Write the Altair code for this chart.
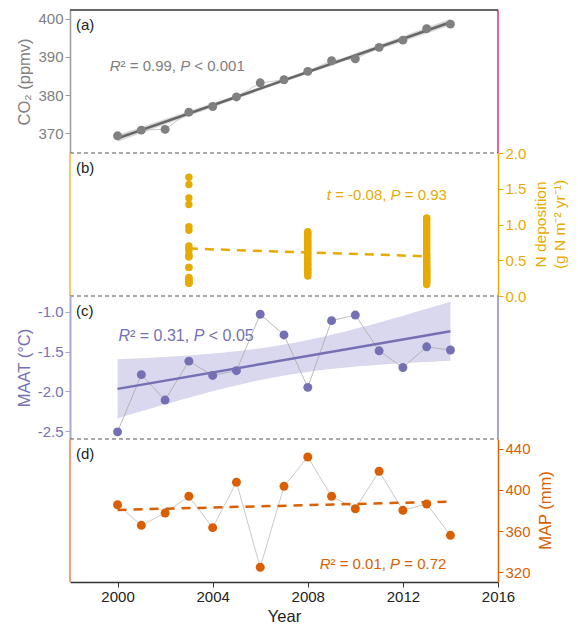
import altair as alt
import numpy as np
import pandas as pd

# ---------------- data ----------------
years = list(range(2000, 2015))
co2 = [369.3, 370.8, 371.0, 375.5, 377.0, 379.5, 383.2, 384.0, 386.2, 389.0, 389.5, 392.5, 394.4, 397.4, 398.6]
maat = [-2.51, -1.79, -2.11, -1.62, -1.80, -1.74, -1.03, -1.29, -1.95, -1.11, -1.04, -1.49, -1.70, -1.44, -1.48]
map_mm = [385.6, 365.6, 377.6, 393.8, 363.3, 407.4, 324.9, 403.5, 431.9, 393.8, 381.7, 418.1, 380.2, 386.3, 355.9]

ndep_2003 = [1.66, 1.56, 1.37, 1.28, 0.97, 0.92, 0.70, 0.67, 0.64, 0.58, 0.55, 0.55, 0.40, 0.40,
             0.26, 0.25, 0.22, 0.20, 0.18, 0.18]
ndep_2008 = [0.90, 0.88, 0.86, 0.83, 0.81, 0.78, 0.76, 0.73, 0.71, 0.69, 0.67, 0.65, 0.62, 0.60,
             0.58, 0.56, 0.53, 0.51, 0.49, 0.46, 0.44, 0.42, 0.39, 0.37, 0.35, 0.33, 0.31, 0.28]
ndep_2013 = [1.09, 1.07, 1.04, 1.01, 0.98, 0.95, 0.92, 0.89, 0.86, 0.83, 0.80, 0.77, 0.74, 0.71,
             0.68, 0.65, 0.62, 0.59, 0.57, 0.55, 0.53, 0.51, 0.49, 0.47, 0.45, 0.43, 0.41, 0.39,
             0.37, 0.36, 0.35, 0.33, 0.32, 0.31, 0.29, 0.28, 0.27, 0.25, 0.24, 0.22, 0.20, 0.19,
             0.16]

x_ticks = [2000, 2004, 2008, 2012, 2016]
co2_ticks = [370, 380, 390, 400]
ndep_ticks = [0.0, 0.5, 1.0, 1.5, 2.0]
maat_ticks = [-2.5, -2.0, -1.5, -1.0]
map_ticks = [320, 360, 400, 440]

# ---------------- style ----------------
FONT = "Liberation Sans"
W, H = 428, 143
C_CO2, C_CO2_LINE = "#808080", "#666666"
C_N = "#E6AB02"
C_T = "#7570B3"
C_P = "#D95F02"
LINK = "#BBBBBB"

ARIAL = {' ': 278, '=': 584, ',': 278, '.': 278, '<': 584, '-': 333, 'R': 722, 'P': 667,
         't': 278, '\u00b2': 333}
for d in "0123456789":
    ARIAL[d] = 556


def text_width(s, size):
    return sum(ARIAL.get(c, 556) for c in s) * size / 1000.0


xscale = alt.Scale(domain=[1998, 2016], nice=False, zero=False)


def ci_band(xs, ys, tval=2.160):
    x = np.asarray(xs, float)
    y = np.asarray(ys, float)
    b, a = np.polyfit(x, y, 1)
    res = y - (a + b * x)
    n = len(x)
    s = np.sqrt(np.sum(res ** 2) / (n - 2))
    sxx = np.sum((x - x.mean()) ** 2)
    g = np.linspace(x.min(), x.max(), 57)
    half = tval * s * np.sqrt(1.0 / n + (g - x.mean()) ** 2 / sxx)
    fit = a + b * g
    return pd.DataFrame({"year": g, "lo": fit - half, "hi": fit + half})


def rich(segs, x, y, color, X, Yf, size=15):
    out = []
    off = 0.0
    df = pd.DataFrame({"year": [x], "val": [y]})
    for txt, ital in segs:
        stripped = txt.lstrip(" ")
        lead = text_width(txt[: len(txt) - len(stripped)], size)
        out.append(
            alt.Chart(df).mark_text(text=stripped, align="left", baseline="middle", dx=off + lead,
                                    fontSize=size, font=FONT,
                                    fontStyle="italic" if ital else "normal", color=color)
            .encode(x=X, y=Yf("val"))
        )
        off += text_width(txt, size)
    return out


def one():
    return pd.DataFrame({"a": [0]})


def tag(label):
    return alt.Chart(one()).mark_text(
        text=label, align="left", baseline="middle", fontSize=15, font=FONT, color="#222222"
    ).encode(x=alt.value(6), y=alt.value(15))


def side_title(label, xpix, color, size):
    return alt.Chart(one()).mark_text(
        text=label, align="center", baseline="middle", angle=270, fontSize=size, font=FONT,
        color=color
    ).encode(x=alt.value(xpix), y=alt.value(H / 2))


def vrule(xpix, color, width=1.5):
    return alt.Chart(one()).mark_rule(color=color, strokeWidth=width).encode(
        x=alt.value(xpix), y=alt.value(0), y2=alt.value(H))


def hrule(ypix, color, dash=None, width=1.2):
    kw = {"color": color, "strokeWidth": width}
    if dash:
        kw["strokeDash"] = dash
    return alt.Chart(one()).mark_rule(**kw).encode(
        x=alt.value(0), x2=alt.value(W), y=alt.value(ypix))


Xnone = alt.X("year:Q", scale=xscale, axis=None)

# ---------------- panel (a) CO2 ----------------
co2_df = pd.DataFrame({"year": years, "val": co2})
co2_axis = alt.Axis(values=co2_ticks, title="CO\u2082 (ppmv)", orient="left",
                    domainColor="#9a9a9a", tickColor="#9a9a9a", labelColor=C_CO2,
                    titleColor=C_CO2, domainWidth=1.5)
co2_scale = alt.Scale(domain=[364.8, 402.3], nice=False, zero=False)


def Ya(f):
    return alt.Y(f + ":Q", scale=co2_scale, axis=co2_axis)


band_a = ci_band(years, co2)
pa_layers = [
    alt.Chart(band_a).mark_area(color="#bdbdbd", opacity=0.6).encode(x=Xnone, y=Ya("lo"), y2="hi:Q"),
    alt.Chart(co2_df).mark_line(color=LINK, strokeWidth=0.8).encode(x=Xnone, y=Ya("val")),
    alt.Chart(co2_df).transform_regression("year", "val").mark_line(color=C_CO2_LINE, strokeWidth=2.5)
    .encode(x=Xnone, y=Ya("val")),
    alt.Chart(co2_df).mark_circle(color=C_CO2, opacity=1, size=80).encode(x=Xnone, y=Ya("val")),
    vrule(W, "#E7298A"),
    hrule(0, "#333333", width=1.5),
    hrule(H, "#555555", dash=[4, 3]),
    tag("(a)"),
] + rich([("R", True), ("\u00b2 = 0.99, ", False), ("P", True), (" < 0.001", False)],
         1999.67, 387.5, C_CO2, Xnone, Ya)
panel_a = alt.layer(*pa_layers).properties(width=W, height=H)

# ---------------- panel (b) N deposition ----------------
nd_df = pd.DataFrame({
    "year": [2003] * len(ndep_2003) + [2008] * len(ndep_2008) + [2013] * len(ndep_2013),
    "val": ndep_2003 + ndep_2008 + ndep_2013,
})
nd_axis = alt.Axis(values=ndep_ticks, format=".1f", orient="right", title=None,
                   domainColor=C_N, tickColor=C_N, labelColor=C_N, domainWidth=1.5)
nd_scale = alt.Scale(domain=[0, 2], nice=False, zero=False)


def Yb(f):
    return alt.Y(f + ":Q", scale=nd_scale, axis=nd_axis)


pb_layers = [
    alt.Chart(nd_df).transform_regression("year", "val").mark_line(
        color=C_N, strokeWidth=2.5, strokeDash=[9, 7]).encode(x=Xnone, y=Yb("val")),
    alt.Chart(nd_df).mark_circle(color=C_N, opacity=1, size=55).encode(x=Xnone, y=Yb("val")),
    vrule(0, "#F2CC66", 2),
    hrule(H, "#555555", dash=[4, 3]),
    tag("(b)"),
    side_title("N deposition", W + 43, C_N, 15.5),
    side_title("(g N m\u207b\u00b2 yr\u207b\u00b9)", W + 62, C_N, 15.5),
] + rich([("t", True), (" = -0.08, ", False), ("P", True), (" = 0.93", False)],
         2008.8, 1.41, C_N, Xnone, Yb)
panel_b = alt.layer(*pb_layers).properties(width=W, height=H)

# ---------------- panel (c) MAAT ----------------
maat_df = pd.DataFrame({"year": years, "val": maat})
maat_axis = alt.Axis(values=maat_ticks, orient="left", title="MAAT (\u00b0C)",
                     labelExpr="replace(format(datum.value, '.1f'), '\u2212', '-')",
                     domainColor="#A9A6D3", tickColor="#A9A6D3", labelColor=C_T,
                     titleColor=C_T, domainWidth=2)
maat_scale = alt.Scale(domain=[-2.6, -0.8], nice=False, zero=False)


def Yc(f):
    return alt.Y(f + ":Q", scale=maat_scale, axis=maat_axis)


band_c = ci_band(years, maat)
pc_layers = [
    alt.Chart(band_c).mark_area(color="#D9D8EE", opacity=1).encode(x=Xnone, y=Yc("lo"), y2="hi:Q"),
    alt.Chart(maat_df).mark_line(color="#AAAAAA", strokeWidth=0.8).encode(x=Xnone, y=Yc("val")),
    alt.Chart(maat_df).transform_regression("year", "val").mark_line(color=C_T, strokeWidth=2.5)
    .encode(x=Xnone, y=Yc("val")),
    alt.Chart(maat_df).mark_circle(color=C_T, opacity=1, size=80).encode(x=Xnone, y=Yc("val")),
    vrule(W, "#8C88C4"),
    hrule(H, "#555555", dash=[4, 3]),
    tag("(c)"),
] + rich([("R", True), ("\u00b2 = 0.31, ", False), ("P", True), (" < 0.05", False)],
         2000.04, -1.30, C_T, Xnone, Yc, size=16)
panel_c = alt.layer(*pc_layers).properties(width=W, height=H)

# ---------------- panel (d) MAP ----------------
map_df = pd.DataFrame({"year": years, "val": map_mm})
map_axis = alt.Axis(values=map_ticks, orient="right", title=None,
                    domainColor=C_P, tickColor=C_P, labelColor=C_P, domainWidth=1.5)
map_scale = alt.Scale(domain=[310.6, 449.4], nice=False, zero=False)
Xd = alt.X("year:Q", scale=xscale,
           axis=alt.Axis(values=x_ticks, format="d", title="Year", domainColor="#333333",
                         tickColor="#333333", labelColor="#222222", titleColor="#222222",
                         domainWidth=1.5, titlePadding=4, labelFlush=False))


def Yd(f):
    return alt.Y(f + ":Q", scale=map_scale, axis=map_axis)


pd_layers = [
    alt.Chart(map_df).mark_line(color=LINK, strokeWidth=0.8).encode(x=Xd, y=Yd("val")),
    alt.Chart(map_df).transform_regression("year", "val").mark_line(
        color=C_P, strokeWidth=2.5, strokeDash=[9, 7]).encode(x=Xd, y=Yd("val")),
    alt.Chart(map_df).mark_circle(color=C_P, opacity=1, size=80).encode(x=Xd, y=Yd("val")),
    vrule(0, "#F0A07A", 2),
    tag("(d)"),
    side_title("MAP (mm)", W + 48, C_P, 16.5),
] + rich([("R", True), ("\u00b2 = 0.01, ", False), ("P", True), (" = 0.72", False)],
         2008.5, 328, C_P, Xd, Yd)
panel_d = alt.layer(*pd_layers).properties(width=W, height=H)

chart = (
    alt.vconcat(panel_a, panel_b, panel_c, panel_d, spacing=0, bounds="flush")
    .properties(padding={"left": 8, "top": 1, "right": 0, "bottom": 0})
    .configure_view(stroke=None)
    .configure_axis(labelFont=FONT, titleFont=FONT, labelFontSize=15, titleFontSize=16.5,
                    titleFontWeight="normal", grid=False, tickSize=5, labelPadding=2,
                    titlePadding=5, labelFlush=False)
)

chart.save("out.html", embed_options={"renderer": "svg", "actions": False})
